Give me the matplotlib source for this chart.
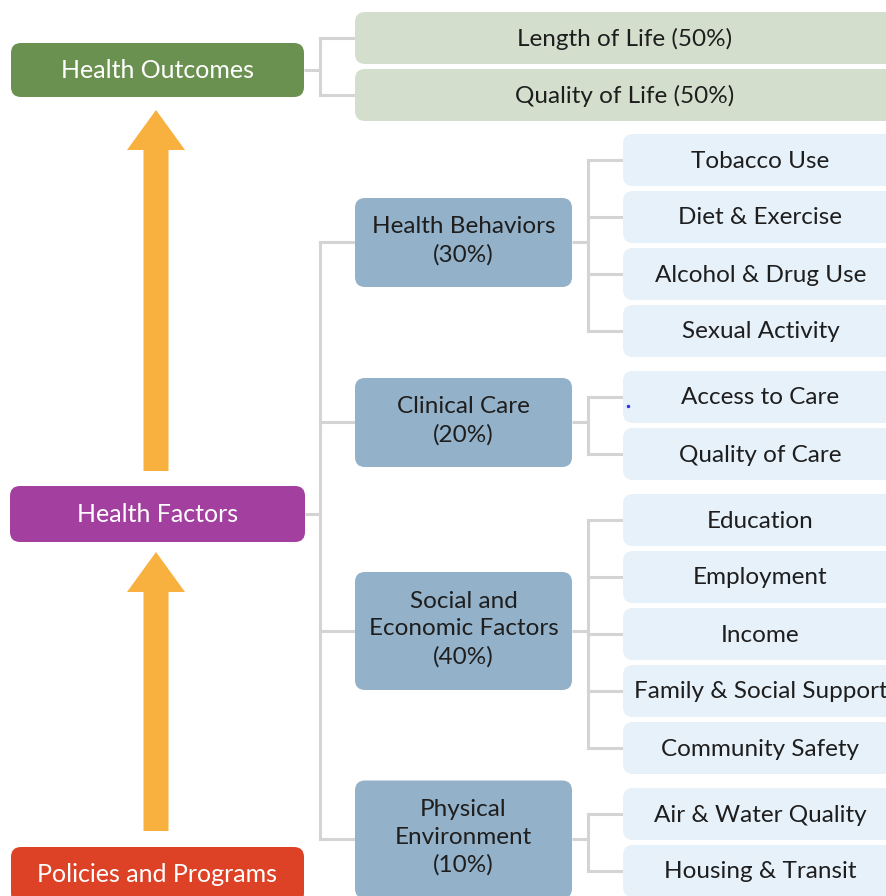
import matplotlib.pyplot as plt
from matplotlib.patches import FancyBboxPatch, FancyArrow

plt.rcParams['font.family'] = ['Lato', 'DejaVu Sans']

# diagram content
outcomes = ['Length of Life (50%)', 'Quality of Life (50%)']
categories = ['Health Behaviors\n(30%)', 'Clinical Care\n(20%)',
              'Social and\nEconomic Factors\n(40%)', 'Physical\nEnvironment\n(10%)']
leaves = [
    ['Tobacco Use', 'Diet & Exercise', 'Alcohol & Drug Use', 'Sexual Activity'],
    ['Access to Care', 'Quality of Care'],
    ['Education', 'Employment', 'Income', 'Family & Social Support', 'Community Safety'],
    ['Air & Water Quality', 'Housing & Transit'],
]
levels = ['Health Outcomes', 'Health Factors', 'Policies and Programs']

# colours
c_out = '#6b9150'
c_fac = '#a3409f'
c_pol = '#de4226'
c_outleaf = '#d3dfcc'
c_cat = '#93b1c8'
c_leaf = '#e6f1fa'
c_line = '#d4d4d4'
c_arrow = '#f8b03e'
c_text = '#1e1e1e'

fig = plt.figure(figsize=(8.86, 8.96), dpi=100)
ax = fig.add_axes([0, 0, 1, 1])
ax.set_xlim(0, 886)
ax.set_ylim(896, 0)
ax.axis('off')


def box(x, y, w, h, color, text, tcolor, size=17.5, rs=10, dy=1, ls=1.22):
    ax.add_patch(FancyBboxPatch((x, y), w, h, boxstyle=f'round,pad=0,rounding_size={rs}',
                                fc=color, ec='none', zorder=2))
    ax.text(x + w / 2, y + h / 2 + dy, text, ha='center', va='center', color=tcolor,
            fontsize=size, linespacing=ls, zorder=3)


def bracket(x0, y0, xm, x1, ys):
    ax.plot([x0, xm], [y0, y0], color=c_line, lw=2.2, zorder=1, solid_capstyle='butt')
    ax.plot([xm, xm], [min(ys), max(ys)], color=c_line, lw=2.2, zorder=1)
    for y in ys:
        ax.plot([xm, x1], [y, y], color=c_line, lw=2.2, zorder=1)


# layout
lx, lw_ = 11, 293
lh = 54
cat_x, cat_w = 355, 217
leaf_x, leaf_w, leaf_h = 623, 275, 52
row0, step, gap = 160, 57, 9

# outcome leaves
out_y = [38, 95]
for name, y in zip(outcomes, out_y):
    box(cat_x, y - 26, 540, 52, c_outleaf, name, c_text)
ho_y = 70
box(lx, ho_y - lh / 2, lw_, lh, c_out, levels[0], 'white', size=18)
bracket(lx + lw_, ho_y, 320, cat_x, out_y)

# factor leaves and categories
cat_y = []
k = 0
for g, (cat, items) in enumerate(zip(categories, leaves)):
    ys = []
    for item in items:
        y = row0 + k * step + g * gap
        ys.append(y)
        box(leaf_x, y - leaf_h / 2, leaf_w, leaf_h, c_leaf, item, c_text)
        k += 1
    cy = (ys[0] + ys[-1]) / 2 - 3
    nlines = cat.count('\n') + 1
    ch = 31 + 29 * nlines
    box(cat_x, cy - ch / 2, cat_w, ch, c_cat, cat, c_text, dy=-2, ls=1.38)
    bracket(cat_x + cat_w, cy, 588, leaf_x, ys)
    cat_y.append(cy)

hf_y = 514
box(lx - 1, hf_y - 28, lw_ + 2, 56, c_fac, levels[1], 'white', size=18)
bracket(lx + lw_ + 1, hf_y, 320, cat_x, cat_y)

pp_y = 874
box(lx, pp_y - 27, lw_, 56, c_pol, levels[2], 'white', size=18, dy=-1)

# arrows
for ytail, yhead in [(471, 110), (831, 552)]:
    ax.add_patch(FancyArrow(156, ytail, 0, yhead - ytail, width=25, head_width=58,
                            head_length=40, length_includes_head=True,
                            fc=c_arrow, ec='none', zorder=2))

ax.plot([628], [406], marker='.', color='#3333ee', ms=3, zorder=4)

fig.savefig('out.png', dpi=100)
